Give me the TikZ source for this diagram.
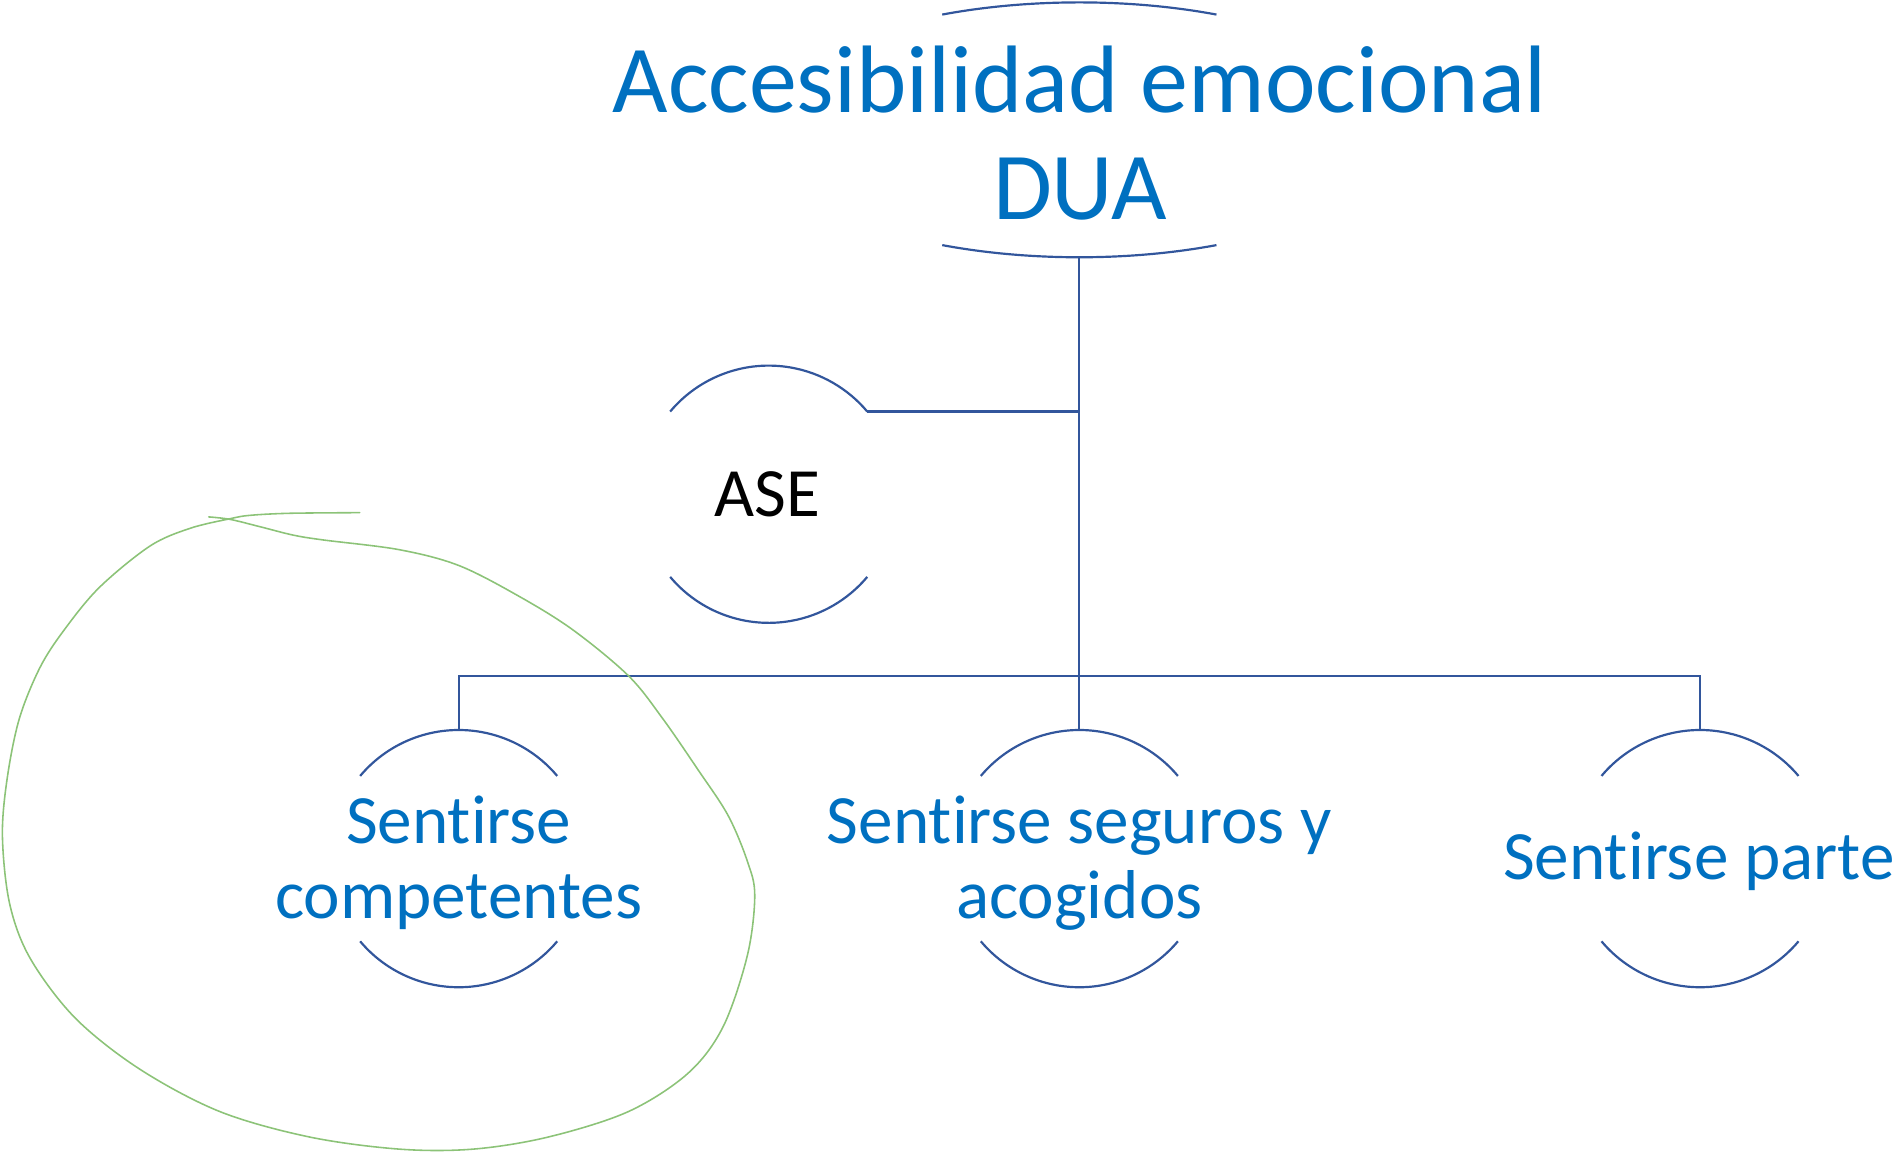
\documentclass[tikz,border=0pt]{standalone}
\usepackage{fontspec}
\newfontfamily\carl[Ligatures=NoCommon,RawFeature={-liga;-clig}]{Carlito}
\usetikzlibrary{shapes.geometric}
\definecolor{lineblue}{RGB}{50,86,156}
\definecolor{txtblue}{RGB}{0,112,192}
\definecolor{inkgreen}{RGB}{140,195,120}
\tikzset{
  conn/.style={draw=lineblue, line width=1.8pt},
  rim/.style={draw=lineblue, line width=1.8pt},
  ring/.style={circle, minimum size=212pt, inner sep=0pt, outer sep=0pt},
  lbl/.style={text=txtblue, font=\carl\fontsize{57}{62}\selectfont, align=center, inner sep=0pt, anchor=base},
  ttl/.style={text=txtblue, font=\carl\fontsize{79}{87.6}\selectfont, align=center, inner sep=0pt, anchor=base},
  ink/.style={draw=inkgreen, line width=1.3pt, line cap=round, line join=round}
}
\begin{document}
\begin{tikzpicture}[x=1pt,y=1pt]
\useasboundingbox (0,0) rectangle (1565,-949.4);
% title frame
\node[ellipse, minimum width=530pt, minimum height=210pt, inner sep=0pt, outer sep=0pt] (title) at (889.5,-107) {};
\node[ttl] (titletext) at (890,-180.5) {Accesibilidad emocional\\DUA};
\draw[rim] ([shift={(-113,95)}]title.center) arc[start angle=115.24, end angle=64.76, x radius=265pt, y radius=105pt];
\draw[rim] ([shift={(-113,-95)}]title.center) arc[start angle=244.76, end angle=295.24, x radius=265pt, y radius=105pt];
% ASE
\node[ring] (ase) at (633.5,-407.3) {};
\node[font=\carl\fontsize{57}{62}\selectfont, text=black, inner sep=0pt, anchor=base] (asetext) at (632.5,-425.8) {ASE};
% children
\node[ring] (c1) at (378,-707.6) {};
\node[ring] (c2) at (889.5,-707.6) {};
\node[ring] (c3) at (1401,-707.6) {};
\node[lbl] (t1) at (378,-757) {Sentirse\\competentes};
\node[lbl] (t2) at (889.5,-757) {Sentirse seguros y\\acogidos};
\node[lbl] (t3) at (1400,-725.2) {Sentirse parte};
\foreach \n in {ase,c1,c2,c3}{
  \draw[rim] (\n.140) arc[start angle=140, end angle=40, radius=106pt];
  \draw[rim] (\n.220) arc[start angle=220, end angle=320, radius=106pt];
}
% connectors
\coordinate (bus) at (889.5,-557.3);
\draw[conn] (title.south) -- (bus);
\draw[conn] (ase.40) -- (ase.40 -| bus);
\draw[conn] (c1.north) |- (bus) -| (c3.north);
\draw[conn] (bus) -- (c2.north);
% green ink loop
\draw[ink] plot[smooth, tension=0.55] coordinates {
(296.5,-422.5) (239,-423) (206,-424.7) (189.5,-427.5) (156.6,-435.4) (123.6,-450)
(82,-484) (53,-519) (33,-550) (16,-592) (6,-641) (2,-689) (8,-745) (25,-790)
(62,-839) (115,-881) (181,-916) (255,-937) (329,-947) (390,-947) (452,-937)
(518,-916) (567,-884.5) (596,-846) (616,-787) (622,-738) (616,-710) (600,-672)
(575,-634) (546,-592) (518,-557) (472,-519) (427,-491) (378,-466) (329,-453)
(266.5,-445) (241.7,-441) (214,-434) (189.5,-428) (172,-426)};
\end{tikzpicture}
\end{document}
